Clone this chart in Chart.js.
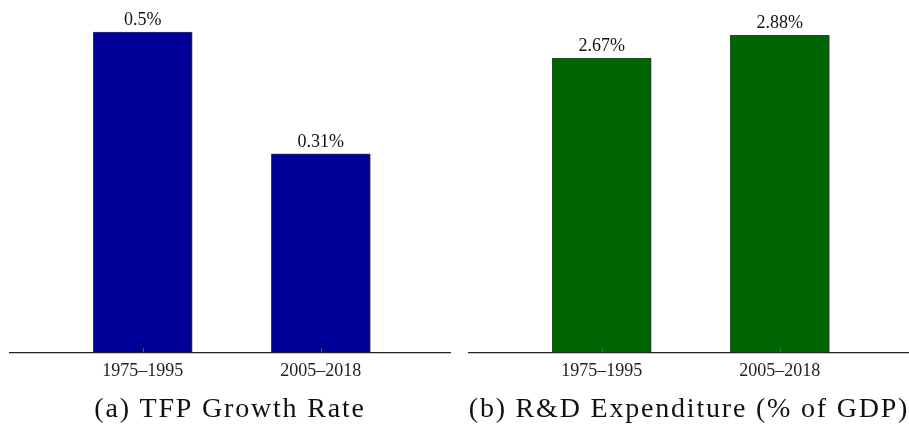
<!DOCTYPE html>
<html>
<head>
<meta charset="utf-8">
<script src="https://cdn.jsdelivr.net/npm/chart.js@4/dist/chart.umd.min.js"></script>
<style>
  html, body { margin:0; padding:0; background:#fff; overflow:hidden; width:909px; height:426px; }
  .panel { position:absolute; top:0; width:460px; height:426px; }
</style>
</head>
<body>
<div class="panel" style="left:0px"><canvas id="ca"></canvas></div>
<div class="panel" style="left:459px"><canvas id="cb"></canvas></div>
<script>
const categories = ['1975–1995', '2005–2018'];
const tfpGrowth = [0.5, 0.31];
const tfpLabels = ['0.5%', '0.31%'];
const rdExpenditure = [2.67, 2.88];
const rdLabels = ['2.67%', '2.88%'];
const titleA = '(a) TFP Growth Rate';
const titleB = '(b) R&D Expenditure (% of GDP)';

const SERIF = '"Liberation Serif", "Times New Roman", serif';

const valueLabels = {
  id: 'valueLabels',
  afterDatasetsDraw(chart, args, opts) {
    const ctx = chart.ctx;
    const meta = chart.getDatasetMeta(0);
    ctx.save();
    ctx.font = '18px ' + SERIF;
    ctx.fillStyle = '#111';
    ctx.textAlign = 'center';
    ctx.textBaseline = 'bottom';
    meta.data.forEach((el, i) => {
      ctx.fillText(opts.labels[i], el.x, el.y - 3);
    });
    const xs = chart.scales.x;
    ctx.strokeStyle = '#666';
    ctx.lineWidth = 1;
    xs.ticks.forEach(t => {
      const px = Math.round(xs.getPixelForValue(t.value)) + 0.5;
      ctx.beginPath();
      ctx.moveTo(px, chart.chartArea.bottom);
      ctx.lineTo(px, chart.chartArea.bottom - 4);
      ctx.stroke();
    });
    ctx.restore();
  },
  afterDraw(chart, args, opts) {
    const ctx = chart.ctx;
    const xs = chart.scales.x;
    ctx.save();
    ctx.font = '28px ' + SERIF;
    if ('letterSpacing' in ctx) ctx.letterSpacing = '1.8px';
    ctx.fillStyle = '#111';
    ctx.textAlign = 'center';
    ctx.textBaseline = 'alphabetic';
    ctx.fillText(opts.title, (chart.chartArea.left + chart.chartArea.right) / 2, xs.bottom + 27);
    ctx.restore();
  }
};

function makeChart(id, values, labels, color, yMax, title) {
  return new Chart(document.getElementById(id), {
    type: 'bar',
    data: {
      datasets: [{
        data: values.map((v, i) => ({ x: i, y: v })),
        backgroundColor: color,
        borderColor: '#3a3a3a',
        borderWidth: 1,
        borderSkipped: 'bottom',
        barThickness: 99
      }]
    },
    options: {
      responsive: true,
      maintainAspectRatio: false,
      animation: false,
      layout: { padding: { left: 10, right: 10, top: 0, bottom: 36 } },
      plugins: {
        legend: { display: false },
        tooltip: { enabled: false },
        valueLabels: { labels: labels, title: title }
      },
      scales: {
        x: {
          type: 'linear',
          offset: false,
          bounds: 'data',
          min: -0.745,
          max: 1.725,
          afterBuildTicks: (scale) => { scale.ticks = categories.map((c, i) => ({ value: i })); },
          ticks: {
            callback: (v) => categories[v],
            font: { family: SERIF, size: 18 },
            color: '#222',
            padding: 8,
            maxRotation: 0,
            autoSkip: false
          },
          grid: { display: false, drawTicks: false, offset: false },
          border: { display: true, color: '#222', width: 1.3 }
        },
        y: {
          display: false,
          min: 0,
          max: yMax
        }
      }
    },
    plugins: [valueLabels]
  });
}

makeChart('ca', tfpGrowth, tfpLabels, '#000099', 0.55, titleA);
makeChart('cb', rdExpenditure, rdLabels, '#006400', 3.2, titleB);
</script>
</body>
</html>
